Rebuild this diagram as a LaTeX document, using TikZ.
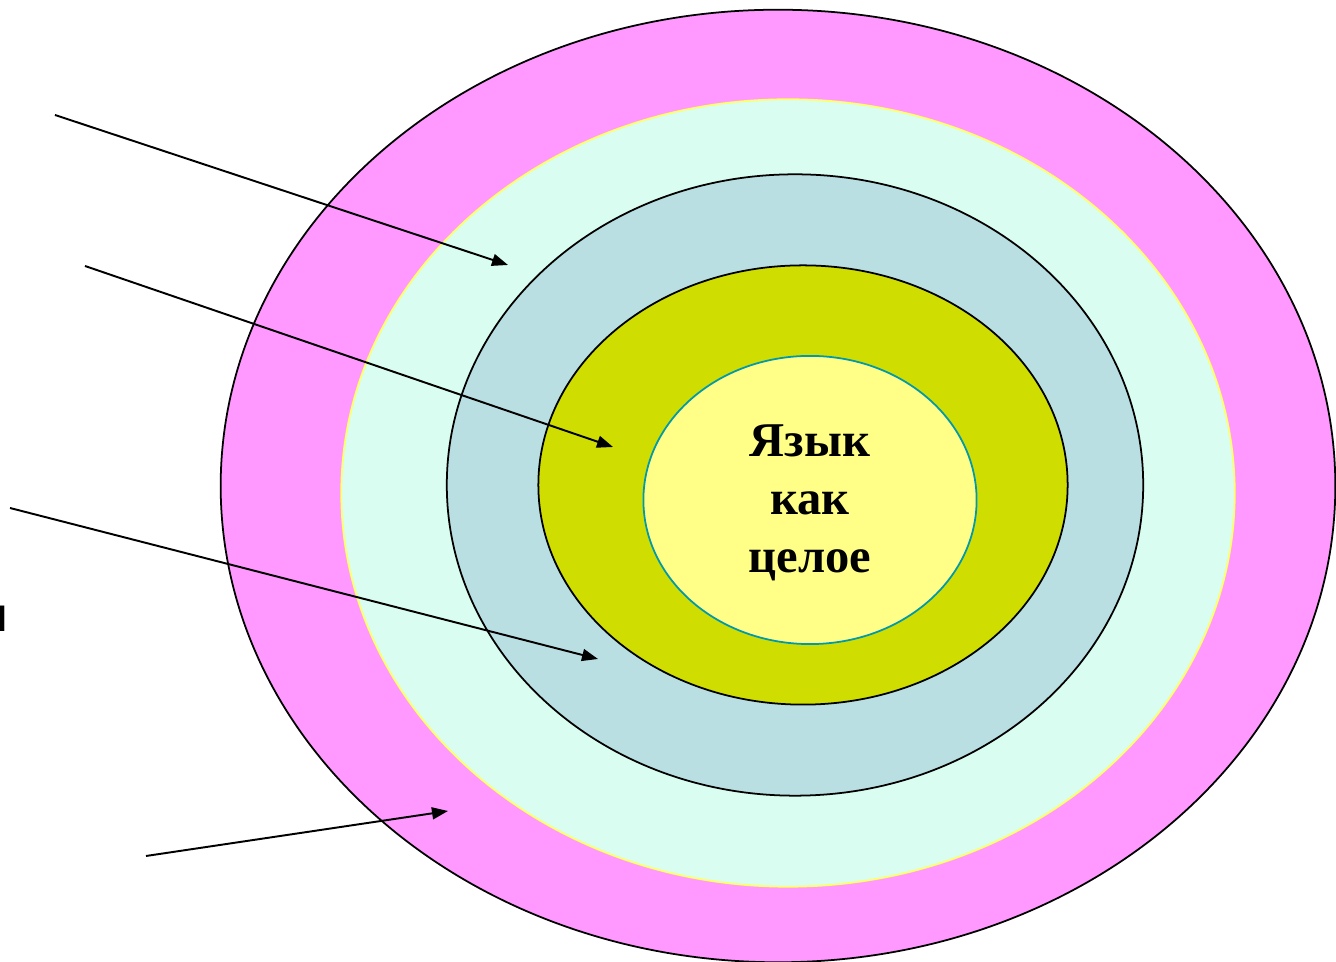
\documentclass[tikz,border=0pt]{standalone}
\usepackage{fontspec}
\setmainfont{Liberation Serif}
\newfontfamily\labelsans{Liberation Sans}
\usepackage{xcolor}
\definecolor{Pink}{HTML}{FF99FF}
\definecolor{Mint}{HTML}{D9FDF0}
\definecolor{Steel}{HTML}{B9DFE3}
\definecolor{Lime}{HTML}{D0DD00}
\definecolor{Cream}{HTML}{FFFF88}
\definecolor{Teal}{HTML}{0099AA}
\definecolor{Lemon}{HTML}{FFFF66}
\usepackage{tikz}
\usetikzlibrary{arrows.meta,shapes.geometric}

\begin{document}
\begin{tikzpicture}[
  x=0.01cm, y=-0.01cm,
  ring/.style={ellipse,inner sep=0pt,line width=.5pt},
  arrow/.style={-{Triangle[length=1.6mm,width=1.2mm]},line width=.55pt,draw=black}
]
\useasboundingbox (0,0) rectangle (1336,962);

% rings, outside in
\node[ring,draw=black,fill=Pink,minimum width=11.14cm,minimum height=9.52cm] (outer) at (778,486) {};
\node[ring,draw=Lemon,fill=Mint,minimum width=8.93cm,minimum height=7.87cm] (mint) at (788,493) {};
\node[ring,draw=black,fill=Steel,minimum width=6.96cm,minimum height=6.21cm] (steel) at (795,485) {};
\node[ring,draw=black,fill=Lime,minimum width=5.29cm,minimum height=4.39cm] (lime) at (803,485) {};
\node[ring,draw=Teal,fill=Cream,minimum width=3.33cm,minimum height=2.88cm] (core) at (810,500) {};

\node[align=center,font=\bfseries\fontsize{13.8}{16.5}\selectfont] (title) at (810,503) {Язык\\как\\целое};

% cut-off label at the left edge
\node[anchor=base east,inner sep=0pt,font=\labelsans\bfseries\fontsize{13.7}{16}\selectfont] (cut) at (9,632) {и};

% pointers
\coordinate (s1) at (55,115);   \coordinate (t1) at (508,265);
\coordinate (s2) at (85,266);   \coordinate (t2) at (613,447);
\coordinate (s3) at (10,508);   \coordinate (t3) at (598,659);
\coordinate (s4) at (146,856);  \coordinate (t4) at (448,811);

\draw[arrow] (s1) -- (t1);
\draw[arrow] (s2) -- (t2);
\draw[arrow] (s3) -- (t3);
\draw[arrow] (s4) -- (t4);
\end{tikzpicture}
\end{document}
